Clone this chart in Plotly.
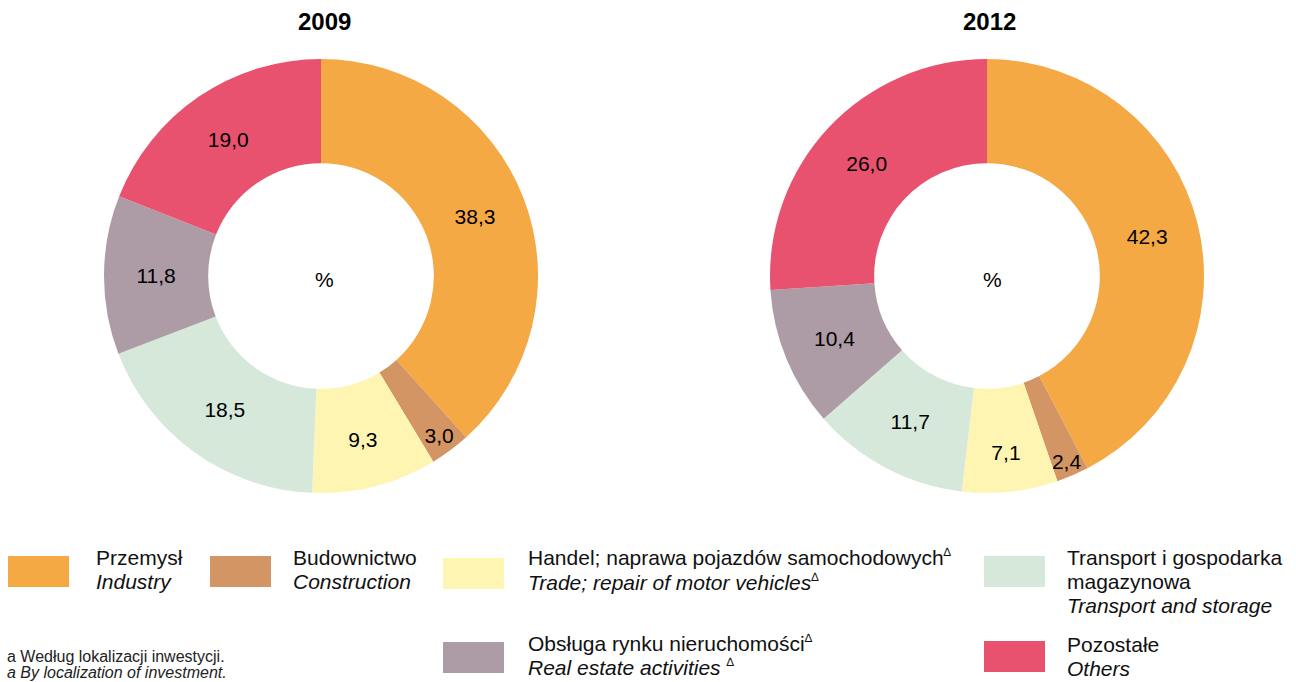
import plotly.graph_objects as go

W, H = 1296, 682

categories = ["Przemysł", "Budownictwo", "Handel; naprawa pojazdów samochodowych",
              "Transport i gospodarka magazynowa", "Obsługa rynku nieruchomości", "Pozostałe"]
values_2009 = [38.3, 3.0, 9.3, 18.5, 11.8, 19.0]
values_2012 = [42.3, 2.4, 7.1, 11.7, 10.4, 26.0]
colors = ["#F5A945", "#D39563", "#FFF5B3", "#D6E8DA", "#AD9BA6", "#E8526F"]
years = ["2009", "2012"]

FONT = "Liberation Sans, Arial, sans-serif"
DELTA = "<sup><span style='font-size:12px'>∆</span></sup>"


def fmt(v):
    return f"{v:.1f}".replace(".", ",")


def px(x):
    return x / W


def py(y):
    return 1 - y / H


fig = go.Figure()

domains = [
    dict(x=[px(104), px(538)], y=[py(493), py(59)]),
    dict(x=[px(770), px(1204)], y=[py(493), py(59)]),
]

for vals, dom, yr in zip([values_2009, values_2012], domains, years):
    fig.add_trace(go.Pie(
        labels=categories,
        values=vals,
        text=[fmt(v) for v in vals],
        textinfo="text",
        textposition="inside",
        insidetextorientation="horizontal",
        textfont=dict(family=FONT, size=21, color="black"),
        marker=dict(colors=colors, line=dict(width=0)),
        hole=0.52,
        sort=False,
        direction="clockwise",
        rotation=0,
        domain=dom,
        showlegend=False,
        hoverinfo="label+text",
    ))

annotations = []
# titles and center labels
for cx, yr in [(324, "2009"), (990, "2012")]:
    annotations.append(dict(x=px(cx), y=py(22), xref="paper", yref="paper", text=f"<b>{yr}</b>",
                            showarrow=False, font=dict(family=FONT, size=24, color="black"),
                            xanchor="center", yanchor="middle"))
for cx in [324, 992]:
    annotations.append(dict(x=px(cx), y=py(279), xref="paper", yref="paper", text="%",
                            showarrow=False, font=dict(family=FONT, size=21, color="black"),
                            xanchor="center", yanchor="middle"))

# legend
legend_items = [
    # (rect x0, rect y0, color, text x, [(line, y)])
    (8, 556, colors[0], 94, [("Przemysł", 557), ("<i>Industry</i>", 581)]),
    (210, 556, colors[1], 291, [("Budownictwo", 557), ("<i>Construction</i>", 581)]),
    (443, 558, colors[2], 526, [("Handel; naprawa pojazdów samochodowych" + DELTA, 557),
                                ("<i>Trade; repair of motor vehicles</i>" + DELTA, 582)]),
    (443, 642, colors[4], 526, [("Obsługa rynku nieruchomości" + DELTA, 643),
                                ("<i>Real estate activities </i>" + DELTA, 667)]),
    (984, 556, colors[3], 1065, [("Transport i gospodarka", 557), ("magazynowa", 581),
                                 ("<i>Transport and storage</i>", 605)]),
    (984, 641, colors[5], 1065, [("Pozostałe", 644), ("<i>Others</i>", 668)]),
]

shapes = []
for x0, y0, col, tx, lines in legend_items:
    shapes.append(dict(type="rect", xref="paper", yref="paper",
                       x0=px(x0), x1=px(x0 + 61), y0=py(y0 + 31), y1=py(y0),
                       fillcolor=col, line=dict(width=0)))
    for txt, ly in lines:
        annotations.append(dict(x=px(tx), y=py(ly), xref="paper", yref="paper", text=txt,
                                showarrow=False, font=dict(family=FONT, size=21, color="#111111"),
                                xanchor="left", yanchor="middle", align="left"))

# footnote
annotations.append(dict(x=px(5), y=py(656), xref="paper", yref="paper",
                        text="a Według lokalizacji inwestycji.", showarrow=False,
                        font=dict(family=FONT, size=16, color="#222222"),
                        xanchor="left", yanchor="middle"))
annotations.append(dict(x=px(5), y=py(672), xref="paper", yref="paper",
                        text="<i>a By localization of investment.</i>", showarrow=False,
                        font=dict(family=FONT, size=16, color="#222222"),
                        xanchor="left", yanchor="middle"))

fig.update_layout(
    width=W, height=H,
    margin=dict(l=0, r=0, t=0, b=0),
    paper_bgcolor="white",
    plot_bgcolor="white",
    annotations=annotations,
    shapes=shapes,
    uniformtext=dict(minsize=21, mode="show"),
    font=dict(family=FONT),
)

fig.write_html("out.html",
               config={"displayModeBar": False},
               post_script="document.body.style.margin='0';document.body.style.overflow='hidden';")
